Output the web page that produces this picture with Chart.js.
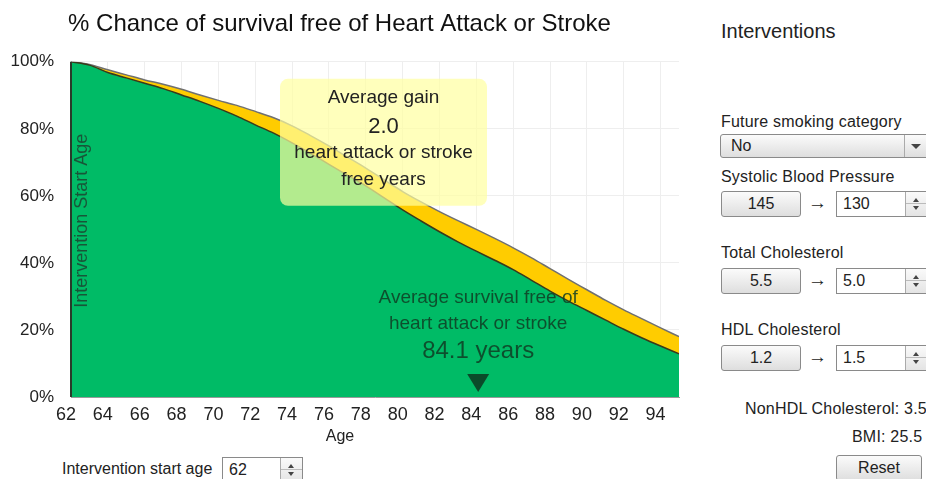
<!DOCTYPE html>
<html>
<head>
<meta charset="utf-8">
<script src="https://cdn.jsdelivr.net/npm/chart.js@4"></script>
<style>
  body { margin:0; width:926px; height:479px; overflow:hidden; background:#fff;
         font-family:'Liberation Sans', Arial, sans-serif; color:#222; }
  #wrap { position:absolute; left:0; top:0; width:680px; height:450px; }
  .lbl { position:absolute; font-size:16px; line-height:20px; white-space:nowrap; letter-spacing:0.2px; }
  .btn { position:absolute; height:26px; box-sizing:border-box; border:1px solid #8a8a8a; border-radius:3px;
         background:linear-gradient(#fbfbfb,#dedede); font-size:16px; line-height:24px; text-align:center; }
  .inp { position:absolute; height:26px; box-sizing:border-box; border:1px solid #8a8a8a; background:#fff;
         font-size:16px; line-height:24px; padding-left:6px; }
  .spin { position:absolute; top:0; bottom:0; right:0; width:21px; border-left:1px solid #aaa;
          background:linear-gradient(#fafafa,#e4e4e4); }
  .spin:before, .spin:after { content:''; position:absolute; left:7px; border-left:3.5px solid transparent; border-right:3.5px solid transparent; }
  .spin:before { top:6px; border-bottom:4px solid #444; }
  .spin:after { bottom:6px; border-top:4px solid #444; }
  .spin i { position:absolute; left:0; right:0; top:11px; border-top:1px solid #bbb; }
  .arrow { position:absolute; font-size:19px; line-height:20px; }
</style>
</head>
<body>
<div id="wrap"><canvas id="chart" width="680" height="450"></canvas></div>

<div class="lbl" style="left:721px;top:19px;font-size:20px;line-height:24px;letter-spacing:0">Interventions</div>

<div class="lbl" style="left:721px;top:112px">Future smoking category</div>
<div class="btn" style="left:720px;top:134px;width:215px;height:24px;text-align:left;padding-left:10px;line-height:22px">No
  <div style="position:absolute;left:183px;top:0;bottom:0;border-left:1px solid #aaa"></div>
  <div style="position:absolute;left:190px;top:9px;border-left:5px solid transparent;border-right:5px solid transparent;border-top:5px solid #444"></div>
</div>

<div class="lbl" style="left:721px;top:167px">Systolic Blood Pressure</div>
<div class="btn" style="left:721px;top:191px;width:80px">145</div>
<div class="arrow" style="left:808px;top:193px">→</div>
<div class="inp" style="left:836px;top:191px;width:92px">130<div class="spin"><i></i></div></div>

<div class="lbl" style="left:721px;top:243px">Total Cholesterol</div>
<div class="btn" style="left:721px;top:268px;width:80px">5.5</div>
<div class="arrow" style="left:808px;top:270px">→</div>
<div class="inp" style="left:836px;top:268px;width:92px">5.0<div class="spin"><i></i></div></div>

<div class="lbl" style="left:721px;top:320px">HDL Cholesterol</div>
<div class="btn" style="left:721px;top:345px;width:80px">1.2</div>
<div class="arrow" style="left:808px;top:347px">→</div>
<div class="inp" style="left:836px;top:345px;width:92px">1.5<div class="spin"><i></i></div></div>

<div class="lbl" style="left:745px;top:399px">NonHDL Cholesterol: 3.5</div>
<div class="lbl" style="left:852px;top:427px">BMI: 25.5</div>
<div class="btn" style="left:836px;top:455px;width:86px">Reset</div>

<div class="lbl" style="left:62px;top:459px;letter-spacing:0">Intervention start age</div>
<div class="inp" style="left:222px;top:457px;width:81px">62<div class="spin"><i></i></div></div>

<script>
// survival free of heart attack or stroke, % by age
const ages = [62,63,64,65,66,67,68,69,70,71,72,73,74,75,76,77,78,79,80,81,82,83,84,85,86,87,88,89,90,91,92,93,94,95];
const survivalBaseline = [100,99.0,96.8,95.2,93.6,92.0,90.1,88.2,86.1,83.8,81.2,78.7,75.8,72.7,69.4,66.2,63.0,59.4,55.8,52.5,49.3,46.3,43.5,40.8,38.0,34.8,31.6,28.6,25.8,23.0,20.2,17.6,15.2,12.9];
const survivalIntervention = [100,99.2,97.6,96.1,94.6,93.3,91.8,90.1,88.5,87.0,85.2,83.3,80.9,78.0,74.9,71.6,68.3,64.8,61.3,58.2,55.3,52.6,50.0,47.3,44.5,41.5,38.3,35.1,32.0,28.9,26.0,23.3,20.6,18.0];
const xTicks = [62,64,66,68,70,72,74,76,78,80,82,84,86,88,90,92,94];
const yTicks = [0,20,40,60,80,100];
const startAge = 62;
const averageGain = 2.0;
const averageSurvivalAge = 84.1;

Chart.defaults.font.family = "'Liberation Sans', Arial, sans-serif";
Chart.defaults.color = '#222';

const overlays = {
  id: 'overlays',
  afterDatasetsDraw(chart) {
    const ctx = chart.ctx, ca = chart.chartArea;
    const x = chart.scales.x, y = chart.scales.y;
    ctx.save();

    // intervention start line
    const sx = x.getPixelForValue(startAge);
    ctx.strokeStyle = '#2a3a2a';
    ctx.lineWidth = 2;
    ctx.beginPath(); ctx.moveTo(sx, y.getPixelForValue(100)); ctx.lineTo(sx, ca.bottom); ctx.stroke();

    ctx.save();
    ctx.translate(sx + 11, ca.top + 159);
    ctx.rotate(-Math.PI / 2);
    ctx.fillStyle = 'rgba(30,60,45,0.8)';
    ctx.font = "18px 'Liberation Sans', Arial, sans-serif";
    ctx.textAlign = 'center'; ctx.textBaseline = 'middle';
    ctx.fillText('Intervention Start Age', 0, 0);
    ctx.restore();

    // average gain box
    const bx = ca.left + 209, by = ca.top + 17, bw = 207, bh = 127, r = 8;
    ctx.fillStyle = 'rgba(255,255,160,0.7)';
    ctx.beginPath();
    ctx.moveTo(bx + r, by);
    ctx.arcTo(bx + bw, by, bx + bw, by + bh, r);
    ctx.arcTo(bx + bw, by + bh, bx, by + bh, r);
    ctx.arcTo(bx, by + bh, bx, by, r);
    ctx.arcTo(bx, by, bx + bw, by, r);
    ctx.closePath(); ctx.fill();
    ctx.fillStyle = '#222';
    ctx.textAlign = 'center'; ctx.textBaseline = 'middle';
    const cx = bx + bw / 2;
    ctx.font = "19px 'Liberation Sans', Arial, sans-serif";
    ctx.fillText('Average gain', cx, by + 19);
    ctx.font = "22px 'Liberation Sans', Arial, sans-serif";
    ctx.fillText(averageGain.toFixed(1), cx, by + 48);
    ctx.font = "19px 'Liberation Sans', Arial, sans-serif";
    ctx.fillText('heart attack or stroke', cx, by + 74);
    ctx.fillText('free years', cx, by + 101);

    // average survival marker
    const mx = x.getPixelForValue(averageSurvivalAge);
    ctx.fillStyle = 'rgba(15,60,35,0.85)';
    ctx.font = "19px 'Liberation Sans', Arial, sans-serif";
    ctx.fillText('Average survival free of', mx, ca.bottom - 99);
    ctx.fillText('heart attack or stroke', mx, ca.bottom - 73);
    ctx.font = "24px 'Liberation Sans', Arial, sans-serif";
    ctx.fillText(averageSurvivalAge.toFixed(1) + ' years', mx, ca.bottom - 46);
    ctx.fillStyle = '#0b4a2a';
    ctx.beginPath();
    ctx.moveTo(mx - 11, ca.bottom - 23); ctx.lineTo(mx + 11, ca.bottom - 23); ctx.lineTo(mx, ca.bottom - 5);
    ctx.closePath(); ctx.fill();

    // x axis title centred on the canvas
    ctx.fillStyle = '#222';
    ctx.font = "16px 'Liberation Sans', Arial, sans-serif";
    ctx.fillText('Age', chart.width / 2, 437);
    ctx.restore();
  }
};

new Chart(document.getElementById('chart'), {
  type: 'line',
  data: {
    labels: ages,
    datasets: [
      {
        label: 'Current',
        data: ages.map((a, i) => ({ x: a, y: survivalBaseline[i] })),
        fill: 'origin',
        backgroundColor: '#00bb66',
        borderColor: '#3a3a1c',
        borderWidth: 1.5,
        pointRadius: 0,
        cubicInterpolationMode: 'monotone'
      },
      {
        label: 'With intervention',
        data: ages.map((a, i) => ({ x: a, y: survivalIntervention[i] })),
        fill: 'origin',
        backgroundColor: '#ffcc00',
        borderColor: '#707070',
        borderWidth: 1.5,
        pointRadius: 0,
        cubicInterpolationMode: 'monotone'
      }
    ]
  },
  options: {
    responsive: false,
    animation: false,
    layout: { padding: { right: 1 } },
    plugins: {
      legend: { display: false },
      tooltip: { enabled: false },
      title: {
        display: true,
        text: '% Chance of survival free of Heart Attack or Stroke',
        font: { size: 24, weight: 'normal' },
        color: '#111',
        padding: { top: 10, bottom: 23 }
      }
    },
    scales: {
      x: {
        type: 'linear',
        min: 62,
        max: 95,
        afterFit: s => { s.height = 53; },
        afterBuildTicks: s => { s.ticks = xTicks.map(v => ({ value: v })); },
        ticks: { autoSkip: false, padding: 7, labelOffset: -5, font: { size: 18 }, color: '#222', maxRotation: 0 },
        grid: { color: '#eeeeee', drawTicks: false },
        border: { color: '#9a9a9a' }
      },
      y: {
        min: 0,
        max: 100,
        afterFit: s => { s.width = 71; },
        afterBuildTicks: s => { s.ticks = yTicks.map(v => ({ value: v })); },
        ticks: { padding: 17, font: { size: 17 }, color: '#222', callback: v => v + '%' },
        grid: { color: '#eeeeee', drawTicks: false },
        border: { display: false }
      }
    }
  },
  plugins: [overlays]
});
</script>
</body>
</html>
